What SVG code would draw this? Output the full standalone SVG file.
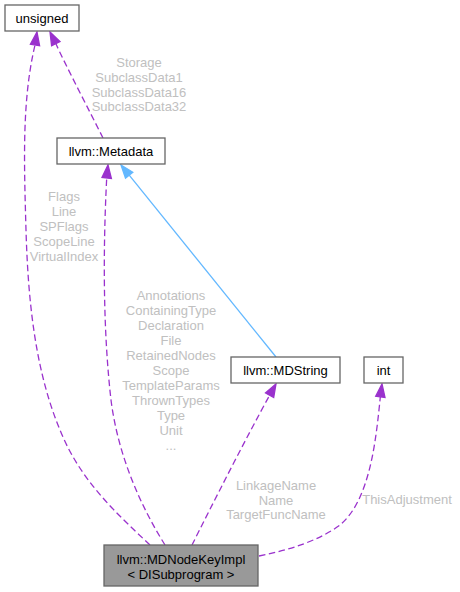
<svg xmlns="http://www.w3.org/2000/svg" width="460" height="592" viewBox="0 0 460 592">
<style>
.box{fill:#ffffff;stroke:#666666;stroke-width:1.3}
.hl{fill:#999999;stroke:#666666;stroke-width:1.3}
.nt{font-family:"Liberation Sans",Arial,sans-serif;font-size:13px;fill:#000000;text-anchor:middle}
.lb{font-family:"Liberation Sans",Arial,sans-serif;font-size:13px;fill:#c0c0c0;text-anchor:middle}
.dep{fill:none;stroke:#9a32cd;stroke-width:1.3;stroke-dasharray:6.5,3.5}
.ah{fill:#9a32cd;stroke:#9a32cd;stroke-width:1.3}
.inh{fill:none;stroke:#63b8ff;stroke-width:1.3}
.ahb{fill:#63b8ff;stroke:#63b8ff;stroke-width:1.3}
</style>
<rect width="460" height="592" fill="#ffffff"/>
<g id="connectors">
  <g id="edge-impl-unsigned">
    <path class="dep" d="M150,545 C115,512 80,480 60,430 C35,370 28,300 26,230 C24,160 22,100 35,45"/>
    <polygon class="ah" points="37,32 39.6,45.7 30.4,44.3"/>
    <text class="lb" x="64" y="201">Flags</text>
    <text class="lb" x="64" y="216">Line</text>
    <text class="lb" x="64" y="231">SPFlags</text>
    <text class="lb" x="64" y="246">ScopeLine</text>
    <text class="lb" x="64" y="261">VirtualIndex</text>
  </g>
  <g id="edge-metadata-unsigned">
    <path class="dep" d="M103,138 C90,112 66,66 55.8,43.6"/>
    <polygon class="ah" points="50,32 60,41.5 51.6,45.7"/>
    <text class="lb" x="139" y="67">Storage</text>
    <text class="lb" x="139" y="81.8">SubclassData1</text>
    <text class="lb" x="139" y="96.6">SubclassData16</text>
    <text class="lb" x="139" y="111.4">SubclassData32</text>
  </g>
  <g id="edge-impl-metadata">
    <path class="dep" d="M165,545 C140,505 118,455 111,400 C103,330 103,250 106.7,178"/>
    <polygon class="ah" points="108,165 111.4,178.5 102,177.5"/>
    <text class="lb" x="171" y="300">Annotations</text>
    <text class="lb" x="171" y="315">ContainingType</text>
    <text class="lb" x="171" y="330">Declaration</text>
    <text class="lb" x="171" y="345">File</text>
    <text class="lb" x="171" y="360">RetainedNodes</text>
    <text class="lb" x="171" y="375">Scope</text>
    <text class="lb" x="171" y="390">TemplateParams</text>
    <text class="lb" x="171" y="405">ThrownTypes</text>
    <text class="lb" x="171" y="420">Type</text>
    <text class="lb" x="171" y="435">Unit</text>
    <text class="lb" x="171" y="450">...</text>
  </g>
  <g id="edge-mdstring-metadata">
    <path class="inh" d="M276,357 L129.2,175.1"/>
    <polygon class="ahb" points="121,165 132.8,172.2 125.5,178.1"/>
  </g>
  <g id="edge-impl-mdstring">
    <path class="dep" d="M192,545 C212,505 245,440 269.6,395.3"/>
    <polygon class="ah" points="276,384 273.7,397.6 265.5,393"/>
    <text class="lb" x="276" y="489.5">LinkageName</text>
    <text class="lb" x="276" y="504.5">Name</text>
    <text class="lb" x="276" y="519">TargetFuncName</text>
  </g>
  <g id="edge-impl-int">
    <path class="dep" d="M259,556 C290,550 320,540 340,525 C370,500 376,440 380.3,397"/>
    <polygon class="ah" points="382,384 385,397.5 375.7,396.3"/>
    <text class="lb" x="407" y="504">ThisAdjustment</text>
  </g>
</g>
<g id="node-unsigned">
  <rect class="box" x="5" y="5" width="74" height="26"/>
  <text class="nt" x="42" y="22.5">unsigned</text>
</g>
<g id="node-metadata">
  <rect class="box" x="57" y="138" width="108" height="26"/>
  <text class="nt" x="111" y="155.5">llvm::Metadata</text>
</g>
<g id="node-mdstring">
  <rect class="box" x="231" y="357" width="109" height="26"/>
  <text class="nt" x="285.5" y="374.5">llvm::MDString</text>
</g>
<g id="node-int">
  <rect class="box" x="364" y="357" width="39" height="26"/>
  <text class="nt" x="383.5" y="374.5">int</text>
</g>
<g id="node-impl">
  <rect class="hl" x="104" y="545" width="154" height="41"/>
  <text class="nt" x="181" y="563.5">llvm::MDNodeKeyImpl</text>
  <text class="nt" x="181" y="578.5">&lt; DISubprogram &gt;</text>
</g>
</svg>
